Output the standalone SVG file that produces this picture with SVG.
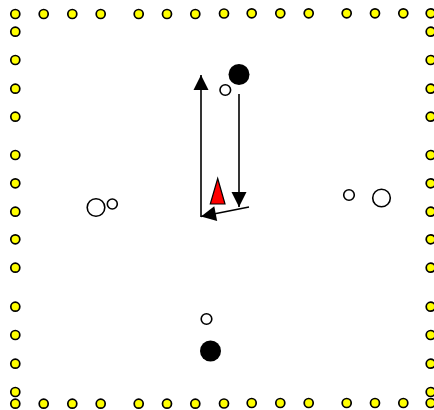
<svg xmlns="http://www.w3.org/2000/svg" width="434" height="410" viewBox="0 0 434 410">
<style>
.cone{fill:#ffff00;stroke:#000;stroke-width:1.7}
.open{fill:#fff;stroke:#000;stroke-width:1.6}
.ball{fill:#000}
.line{stroke:#000;stroke-width:1.6;fill:none}
</style>
<defs>
<marker id="ah" viewBox="0 0 15 15" refX="15" refY="7.5" markerWidth="15" markerHeight="15" markerUnits="userSpaceOnUse" orient="auto" overflow="visible">
<path d="M0,0 L15,7.5 L0,15 Z" fill="#000"/>
</marker>
</defs>
<rect width="434" height="410" fill="#fff"/>
<g id="cones">
<g id="top">
<circle class="cone" cx="15.3" cy="14" r="4.5"/><circle class="cone" cx="43.7" cy="14" r="4.5"/><circle class="cone" cx="72.3" cy="14" r="4.5"/><circle class="cone" cx="100.7" cy="14" r="4.5"/><circle class="cone" cx="138.7" cy="14" r="4.5"/><circle class="cone" cx="167" cy="14" r="4.5"/><circle class="cone" cx="195.3" cy="14" r="4.5"/><circle class="cone" cx="224" cy="13.5" r="4.5"/><circle class="cone" cx="251.7" cy="13.3" r="4.5"/><circle class="cone" cx="280.3" cy="13.3" r="4.5"/><circle class="cone" cx="308.7" cy="13.3" r="4.5"/><circle class="cone" cx="346.7" cy="13.3" r="4.5"/><circle class="cone" cx="375" cy="13.3" r="4.5"/><circle class="cone" cx="403.3" cy="13.3" r="4.5"/><circle class="cone" cx="430.7" cy="13.3" r="4.5"/>
</g>
<g id="bottom">
<circle class="cone" cx="15.3" cy="403.7" r="4.5"/><circle class="cone" cx="43.7" cy="403.7" r="4.5"/><circle class="cone" cx="72.3" cy="403.7" r="4.5"/><circle class="cone" cx="100.7" cy="403.7" r="4.5"/><circle class="cone" cx="138.7" cy="403.7" r="4.5"/><circle class="cone" cx="167" cy="403.7" r="4.5"/><circle class="cone" cx="195.3" cy="403.7" r="4.5"/><circle class="cone" cx="224" cy="403.5" r="4.5"/><circle class="cone" cx="251.7" cy="403" r="4.5"/><circle class="cone" cx="280.3" cy="403" r="4.5"/><circle class="cone" cx="308.7" cy="403" r="4.5"/><circle class="cone" cx="346.7" cy="403" r="4.5"/><circle class="cone" cx="375" cy="403" r="4.5"/><circle class="cone" cx="403.3" cy="403" r="4.5"/><circle class="cone" cx="430.7" cy="403" r="4.5"/>
</g>
<g id="left">
<circle class="cone" cx="15.3" cy="31.7" r="4.5"/><circle class="cone" cx="15.3" cy="60" r="4.5"/><circle class="cone" cx="15.3" cy="88.7" r="4.5"/><circle class="cone" cx="15.3" cy="116.7" r="4.5"/><circle class="cone" cx="15.3" cy="155" r="4.5"/><circle class="cone" cx="15.3" cy="183.3" r="4.5"/><circle class="cone" cx="15.3" cy="211.7" r="4.5"/><circle class="cone" cx="15.3" cy="239.3" r="4.5"/><circle class="cone" cx="15.3" cy="267.7" r="4.5"/><circle class="cone" cx="15.3" cy="306.7" r="4.5"/><circle class="cone" cx="15.3" cy="335" r="4.5"/><circle class="cone" cx="15.3" cy="363.7" r="4.5"/><circle class="cone" cx="15.3" cy="392" r="4.5"/>
</g>
<g id="right">
<circle class="cone" cx="430.7" cy="31.7" r="4.5"/><circle class="cone" cx="430.7" cy="60" r="4.5"/><circle class="cone" cx="430.7" cy="88.7" r="4.5"/><circle class="cone" cx="430.7" cy="116.7" r="4.5"/><circle class="cone" cx="430.7" cy="155" r="4.5"/><circle class="cone" cx="430.7" cy="183.3" r="4.5"/><circle class="cone" cx="430.7" cy="211.7" r="4.5"/><circle class="cone" cx="430.7" cy="239.3" r="4.5"/><circle class="cone" cx="430.7" cy="267.7" r="4.5"/><circle class="cone" cx="430.7" cy="306.7" r="4.5"/><circle class="cone" cx="430.7" cy="335" r="4.5"/><circle class="cone" cx="430.7" cy="363.7" r="4.5"/><circle class="cone" cx="430.7" cy="392" r="4.5"/>
</g>
</g>
<g id="connectors">
<line class="line" x1="201" y1="217" x2="201" y2="75" marker-end="url(#ah)"/>
<line class="line" x1="239" y1="94" x2="239" y2="207" marker-end="url(#ah)"/>
<line class="line" x1="249" y1="207" x2="201" y2="216.5" marker-end="url(#ah)"/>
</g>
<g id="ball-top"><circle class="ball" cx="239" cy="74.5" r="10.5"/></g>
<g id="player-top"><circle class="open" cx="225.3" cy="90" r="5.3"/></g>
<g id="red-cone"><polygon points="217.7,178.5 225,204 210.3,204" fill="#ff0000" stroke="#000" stroke-width="1.2"/></g>
<g id="left-pair"><circle class="open" cx="96" cy="207.5" r="8.8"/><circle class="open" cx="112.3" cy="204" r="5"/></g>
<g id="right-pair"><circle class="open" cx="349" cy="195" r="5.3"/><circle class="open" cx="381.5" cy="198" r="8.8"/></g>
<g id="player-bottom"><circle class="open" cx="206.5" cy="319" r="5.3"/></g>
<g id="ball-bottom"><circle class="ball" cx="210.5" cy="351" r="10.5"/></g>
</svg>
